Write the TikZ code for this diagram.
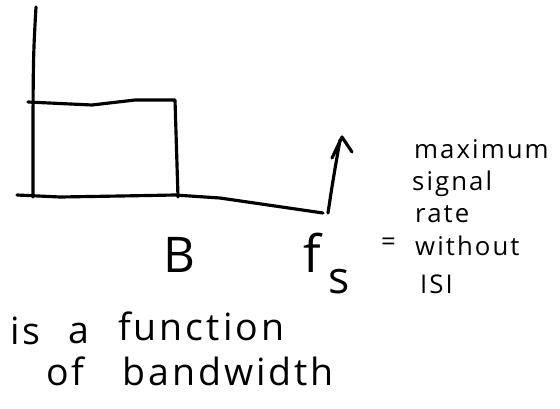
\documentclass[tikz,border=0pt]{standalone}
\usepackage{fontspec}
\setmainfont{Open Sans}
\newfontfamily\handfont[LetterSpace=8]{Open Sans}
\usetikzlibrary{arrows.meta}

\begin{document}
\begin{tikzpicture}[x=0.03cm, y=-0.03cm,
  pen/.style={line width=2.7pt, line cap=round, line join=round},
  hand/.style={inner sep=0pt, anchor=base west},
  small/.style={hand, font=\handfont\fontsize{22}{24}\selectfont},
  big/.style={hand, font=\handfont\fontsize{32}{36}\selectfont}]

\useasboundingbox (0,0) rectangle (560,408);

% Axes
\draw[pen] (36,7) .. controls (33,60) .. (33,197);
\draw[pen] (17,195) -- (60,197) -- (120,196) -- (175,195)
    -- (220,198) -- (323,213);

% Spectre rectangulaire
\draw[pen] (28,102) -- (92,105) -- (135,100) -- (175,100) -- (178,197);

% Fleche de f_s
\draw[pen] (328,213) .. controls (333,180) .. (340,140);
\draw[pen] (332,158) -- (342,137) -- (352,152);

% Etiquettes de l'axe
\node[hand, font=\fontsize{42}{44}\selectfont] (bw) at (163,272) {B};
\node[hand, font=\fontsize{44}{46}\selectfont] (fs) at (303,272) {f};
\node[hand, font=\fontsize{38}{40}\selectfont] (sub) at (328,293) {s};
\node[hand, font=\fontsize{22}{24}\selectfont] (eq) at (381,250) {=};

% Definition de f_s
\node[small] (max)  at (414,158) {maximum};
\node[small] (sig)  at (412,190) {signal};
\node[small] (rate) at (415,222) {rate};
\node[small] (wo)   at (415,255) {without};
\node[small] (isi)  at (420,293) {ISI};

% Remarque
\node[big] (is)   at (10,344)  {is};
\node[big] (a)    at (68,343)  {a};
\node[big] (func) at (118,340) {function};
\node[big] (of)   at (46,385)  {of};
\node[big] (band) at (122,385) {bandwidth};

\end{tikzpicture}
\end{document}
